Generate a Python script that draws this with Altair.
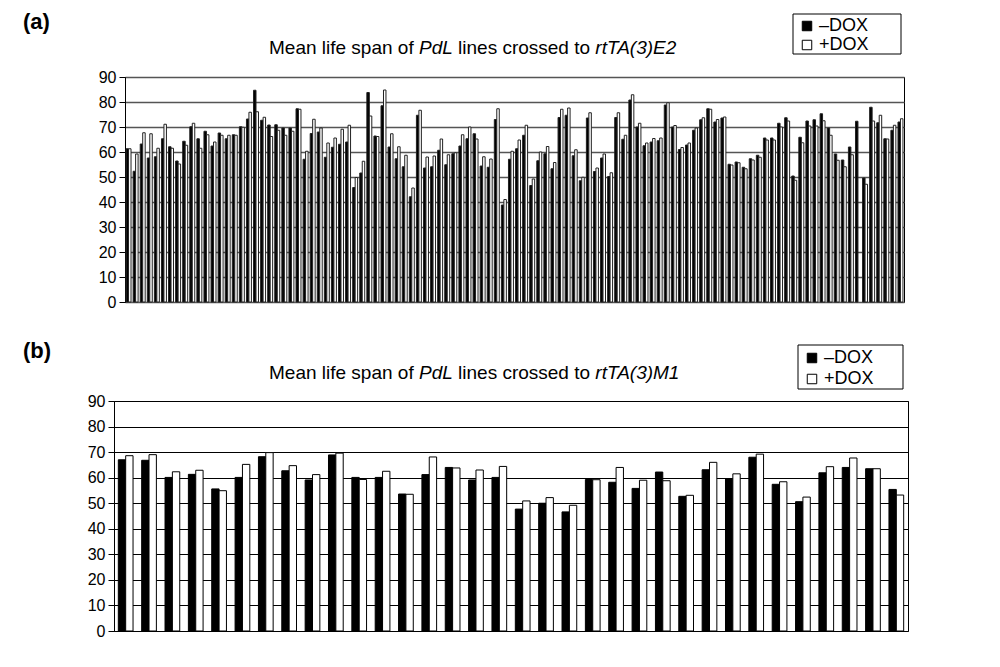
import altair as alt
import pandas as pd

TREATMENTS = ["–DOX", "+DOX"]
Y_TICKS = [0, 10, 20, 30, 40, 50, 60, 70, 80, 90]

# Panel (a): rtTA(3)E2, 110 PdL lines (None = bar not shown)
A_MINUS = [61.3, 52.3, 63.2, 57.6, 58.1, 65.3, 62.1, 56.4, 64.3, 70.1,
           65.3, 68.3, 62.4, 67.6, 65.3, 66.9, 70.1, 73.2, 84.7, 72.7,
           70.8, 70.9, 69.6, 69.6, 77.3, 57.1, 67.4, 68.0, 57.9, 61.9,
           63.1, 64.0, 45.8, 51.6, 83.8, 66.4, 78.5, 62.0, 57.3, 54.1,
           42.1, 74.7, 53.6, 54.1, 60.7, 54.9, 59.3, 62.4, 65.3, 67.3,
           54.4, 53.9, 73.0, 38.8, 57.1, 61.3, 66.7, 46.6, 56.5, 59.3,
           53.3, 73.8, 74.7, 58.5, 48.5, 73.6, 52.2, 57.6, 50.2, 73.8,
           65.1, 80.8, 70.0, 62.5, 64.0, 64.5, 78.8, 70.0, 61.0, 62.8,
           68.7, 72.9, 77.3, 72.0, 73.6, 55.1, 56.0, 53.9, 57.3, 58.7,
           65.6, 65.6, 71.5, 73.7, 50.4, 65.9, 72.4, 72.9, 75.3, 69.6,
           59.2, 56.8, 62.0, 72.3, 49.6, 77.9, 71.7, 65.3, 68.7, 72.0]
A_PLUS = [61.3, 59.2, 67.7, 67.3, 61.5, 71.1, 61.5, 55.2, 62.7, 71.5,
          61.5, 66.9, 64.0, 66.7, 66.7, 66.7, 69.9, 75.9, 76.1, 73.9,
          66.2, 68.7, 66.7, 68.3, 77.1, 60.3, 73.1, 69.6, 63.6, 65.6,
          69.1, 70.7, 49.8, 56.3, 74.4, 66.2, 84.8, 67.3, 62.1, 58.7,
          45.6, 76.7, 58.0, 58.4, 65.2, 58.9, 59.7, 66.9, 70.0, 65.2,
          58.1, 57.2, 77.3, 41.0, 60.3, 64.8, 70.7, 49.2, 60.0, 62.2,
          55.8, 77.1, 77.6, 60.9, 49.9, 75.7, 53.6, 59.2, 51.7, 75.7,
          66.7, 82.9, 71.5, 63.6, 65.4, 65.6, 79.7, 70.6, 61.8, 63.6,
          69.6, 73.7, 77.1, 73.0, 74.0, 54.8, 55.7, 53.3, 56.8, 57.9,
          64.8, 64.8, 70.0, 72.4, 48.7, 63.7, 70.4, 70.4, 72.5, 66.7,
          56.7, 54.1, 58.9, None, 47.1, 72.4, 74.7, 65.2, 70.7, 73.3]

# Panel (b): rtTA(3)M1, 34 PdL lines
B_MINUS = [67.0, 66.8, 60.1, 61.3, 55.6, 60.1, 68.2, 62.7, 59.1, 68.9,
           60.1, 60.1, 53.6, 61.2, 64.0, 59.1, 60.1, 47.7, 50.0, 46.6,
           59.3, 58.2, 55.8, 62.2, 52.7, 63.1, 59.6, 68.0, 57.4, 50.6,
           61.9, 64.0, 63.5, 55.4]
B_PLUS = [68.6, 69.0, 62.3, 62.9, 54.9, 65.2, 69.8, 64.7, 61.2, 69.6,
          59.3, 62.5, 53.5, 68.1, 63.8, 63.0, 64.4, 50.9, 52.2, 49.2,
          59.2, 64.0, 59.0, 58.8, 53.1, 66.0, 61.5, 69.2, 58.4, 52.4,
          64.3, 67.7, 63.5, 53.2]

FONT = "Liberation Sans"
TITLE_SIZE = 19

# Arial / Liberation Sans advance widths (per 1000 em) used to butt the title pieces together
ADV = {"M": 833, "e": 556, "a": 556, "n": 556, " ": 278, "l": 222, "i": 222, "f": 278,
       "s": 500, "p": 556, "o": 556, "P": 667, "d": 556, "L": 556, "c": 500, "r": 333,
       "t": 278, "T": 611, "A": 667, "(": 333, ")": 333, "3": 556, "E": 667, "2": 556,
       "1": 556}


def text_width(s, size):
    return sum(ADV.get(ch, 556) for ch in s) * size / 1000.0


def long_form(minus, plus):
    rows = []
    for i, (m, p) in enumerate(zip(minus, plus), start=1):
        rows.append({"line": i, "treatment": TREATMENTS[0], "value": m})
        rows.append({"line": i, "treatment": TREATMENTS[1], "value": p})
    return pd.DataFrame(rows)


def text_mark(text, x, y, size, style="normal", weight="normal", align="left", baseline="alphabetic"):
    return alt.Chart(pd.DataFrame({"t": [text]})).mark_text(
        align=align, baseline=baseline, fontSize=size, fontStyle=style,
        fontWeight=weight, font=FONT, color="black"
    ).encode(text="t:N", x=alt.value(x), y=alt.value(y))


def title_marks(x0, y, promoter):
    pieces = [("Mean life span of ", "normal"), ("PdL", "italic"),
              (" lines crossed to ", "normal"), (promoter, "italic")]
    marks = []
    x = x0
    for txt, style in pieces:
        lead = text_width(txt[: len(txt) - len(txt.lstrip())], TITLE_SIZE)
        marks.append(text_mark(txt.strip(), x + lead, y, TITLE_SIZE, style=style))
        x += text_width(txt, TITLE_SIZE)
    return marks


def legend_frame(box):
    x1, y1, x2, y2 = box
    return alt.Chart(pd.DataFrame({"t": [0]})).mark_rect(
        filled=False, stroke="black", strokeWidth=1
    ).encode(x=alt.value(x1), x2=alt.value(x2), y=alt.value(y1), y2=alt.value(y2))


def panel(df, width, height, pad_inner, pad_outer, bar_stroke, bar_sw,
          grid_color, grid_width, box, legend_y, row_pad, tag, tag_x, tag_y,
          title_x, title_y, promoter):
    bars = alt.Chart(df).mark_bar(stroke=bar_stroke, strokeWidth=bar_sw).encode(
        x=alt.X("line:O", axis=None,
                scale=alt.Scale(paddingInner=pad_inner, paddingOuter=pad_outer)),
        xOffset=alt.XOffset("treatment:N", scale=alt.Scale(domain=TREATMENTS)),
        y=alt.Y("value:Q", title=None,
                scale=alt.Scale(domain=[0, 90], nice=False),
                axis=alt.Axis(values=Y_TICKS, grid=True, gridColor=grid_color,
                              gridWidth=grid_width, domainColor="black",
                              tickColor="black", tickSize=6, labelFontSize=16,
                              labelFont=FONT, labelColor="black", labelPadding=3)),
        fill=alt.Fill("treatment:N",
                      scale=alt.Scale(domain=TREATMENTS, range=["#000000", "#ffffff"]),
                      legend=alt.Legend(title=None, orient="none", legendX=box[0] + 3,
                                        legendY=legend_y, symbolType="square",
                                        symbolSize=90, symbolStrokeColor="black",
                                        symbolStrokeWidth=1, labelFont=FONT,
                                        labelFontSize=18, labelColor="black",
                                        padding=2, rowPadding=row_pad, labelOffset=3)),
    )
    layers = [bars, legend_frame(box),
              text_mark(tag, tag_x, tag_y, 22, weight="bold", baseline="top")]
    layers += title_marks(title_x, title_y, promoter)
    return alt.layer(*layers).properties(width=width, height=height)


panel_a = panel(long_form(A_MINUS, A_PLUS), 779, 225, 0.3, 0.15, "#222222", 1.0,
                "#555555", 1.5, (668, -63, 776, -23), -62, 1,
                "(a)", -102, -65, 144, -23, "rtTA(3)E2")
panel_b = panel(long_form(B_MINUS, B_PLUS), 794, 230, 0.37, 0.185, "#000000", 1,
                "#000000", 1, (684, -56, 789, -12), -54, 3,
                "(b)", -91, -60, 155, -22, "rtTA(3)M1")

# an empty 11 px strip so that panel (a)'s axis sits right of panel (b)'s, as in the figure
spacer = alt.Chart(pd.DataFrame({"t": [0]})).mark_point(opacity=0).encode(
    x=alt.value(0), y=alt.value(0)
).properties(width=11, height=225, view=alt.ViewBackground(stroke="transparent"))

row_a = alt.hconcat(spacer, panel_a, spacing=0, bounds="flush").resolve_scale(
    x="independent", y="independent", xOffset="independent", fill="independent"
).resolve_legend(fill="independent")

chart = alt.vconcat(row_a, panel_b, spacing=28).properties(
    padding={"left": 14, "top": 2, "right": 5, "bottom": 5}
).configure_view(stroke="black", strokeWidth=1).resolve_scale(
    x="independent", y="independent", xOffset="independent", fill="independent"
).resolve_legend(fill="independent")

chart.save("out.html", embed_options={"renderer": "svg", "actions": False})
